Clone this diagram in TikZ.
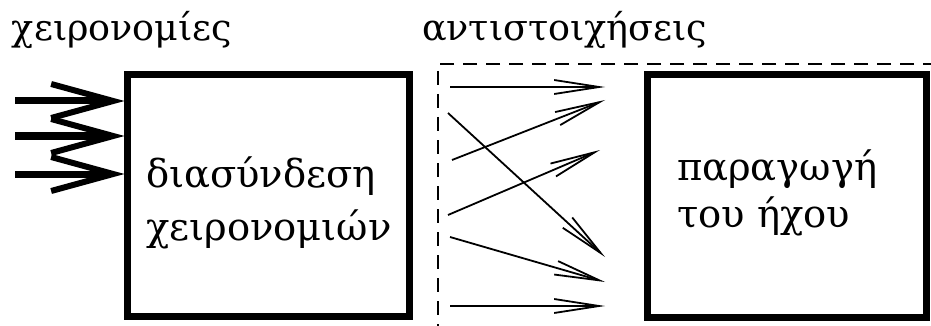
\documentclass[tikz,border=0pt]{standalone}
\usepackage{fontspec}
\setmainfont{DejaVu Serif}
\usetikzlibrary{arrows.meta}
\begin{document}
\begin{tikzpicture}[x=1pt,y=-1pt,
  block/.style={draw, line width=7pt, inner sep=0pt, outer sep=0pt},
  txt/.style={anchor=base west, inner sep=0pt, outer sep=0pt},
  toplabel/.style={txt, font=\fontsize{36.5}{40}\selectfont},
  boxtext/.style={txt, font=\fontsize{38.5}{44}\selectfont},
  inarrow/.style={line width=7pt, -{Straight Barb[length=62pt,width=34pt,line width=6pt]}},
  maparrow/.style={line width=1.8pt, -{Straight Barb[length=45pt,width=14pt]}},
  region/.style={line width=2pt, dash pattern=on 14pt off 9pt}
]
\useasboundingbox (0,0) rectangle (931,326);

% blocks
\node[block, minimum width=281.5pt, minimum height=241.5pt] (gest) at (268.25,195.75) {};
\node[block, minimum width=279pt, minimum height=242pt] (sound) at (787,196) {};

% labels
\node[toplabel] (lgest) at (12,41) {χειρονομίες};
\node[toplabel] (lmap) at (422,41) {αντιστοιχήσεις};
\node[boxtext] (g1) at (146,187) {διασύνδεση};
\node[boxtext] (g2) at (146,240) {χειρονομιών};
\node[boxtext] (s1) at (677,180) {παραγωγή};
\node[boxtext] (s2) at (677,227) {του ήχου};

% mapping region (dashed, runs off the picture)
\begin{scope}
  \clip (0,0) rectangle (931,326);
  \coordinate (rtop) at (960,64);
  \coordinate (rbot) at (438,340);
  \draw[region] (rtop) -| (rbot);
\end{scope}

% gesture inputs
\foreach \y [count=\i] in {101,136,174} {
  \coordinate (in\i) at (15,\y);
  \coordinate (inend\i) at (gest.west |- in\i);
  \draw[inarrow] (in\i) -- ([xshift=-3pt]inend\i);
}

% mappings
\coordinate (a1) at (450,87);  \coordinate (b1) at (605,87);
\coordinate (a2) at (452,160); \coordinate (b2) at (605,100);
\coordinate (a3) at (448,113); \coordinate (b3) at (605,257);
\coordinate (a4) at (448,215); \coordinate (b4) at (600,150);
\coordinate (a5) at (450,237); \coordinate (b5) at (605,282);
\coordinate (a6) at (450,306); \coordinate (b6) at (605,306);
\foreach \i in {1,...,6} { \draw[maparrow] (a\i) -- (b\i); }
\end{tikzpicture}
\end{document}
